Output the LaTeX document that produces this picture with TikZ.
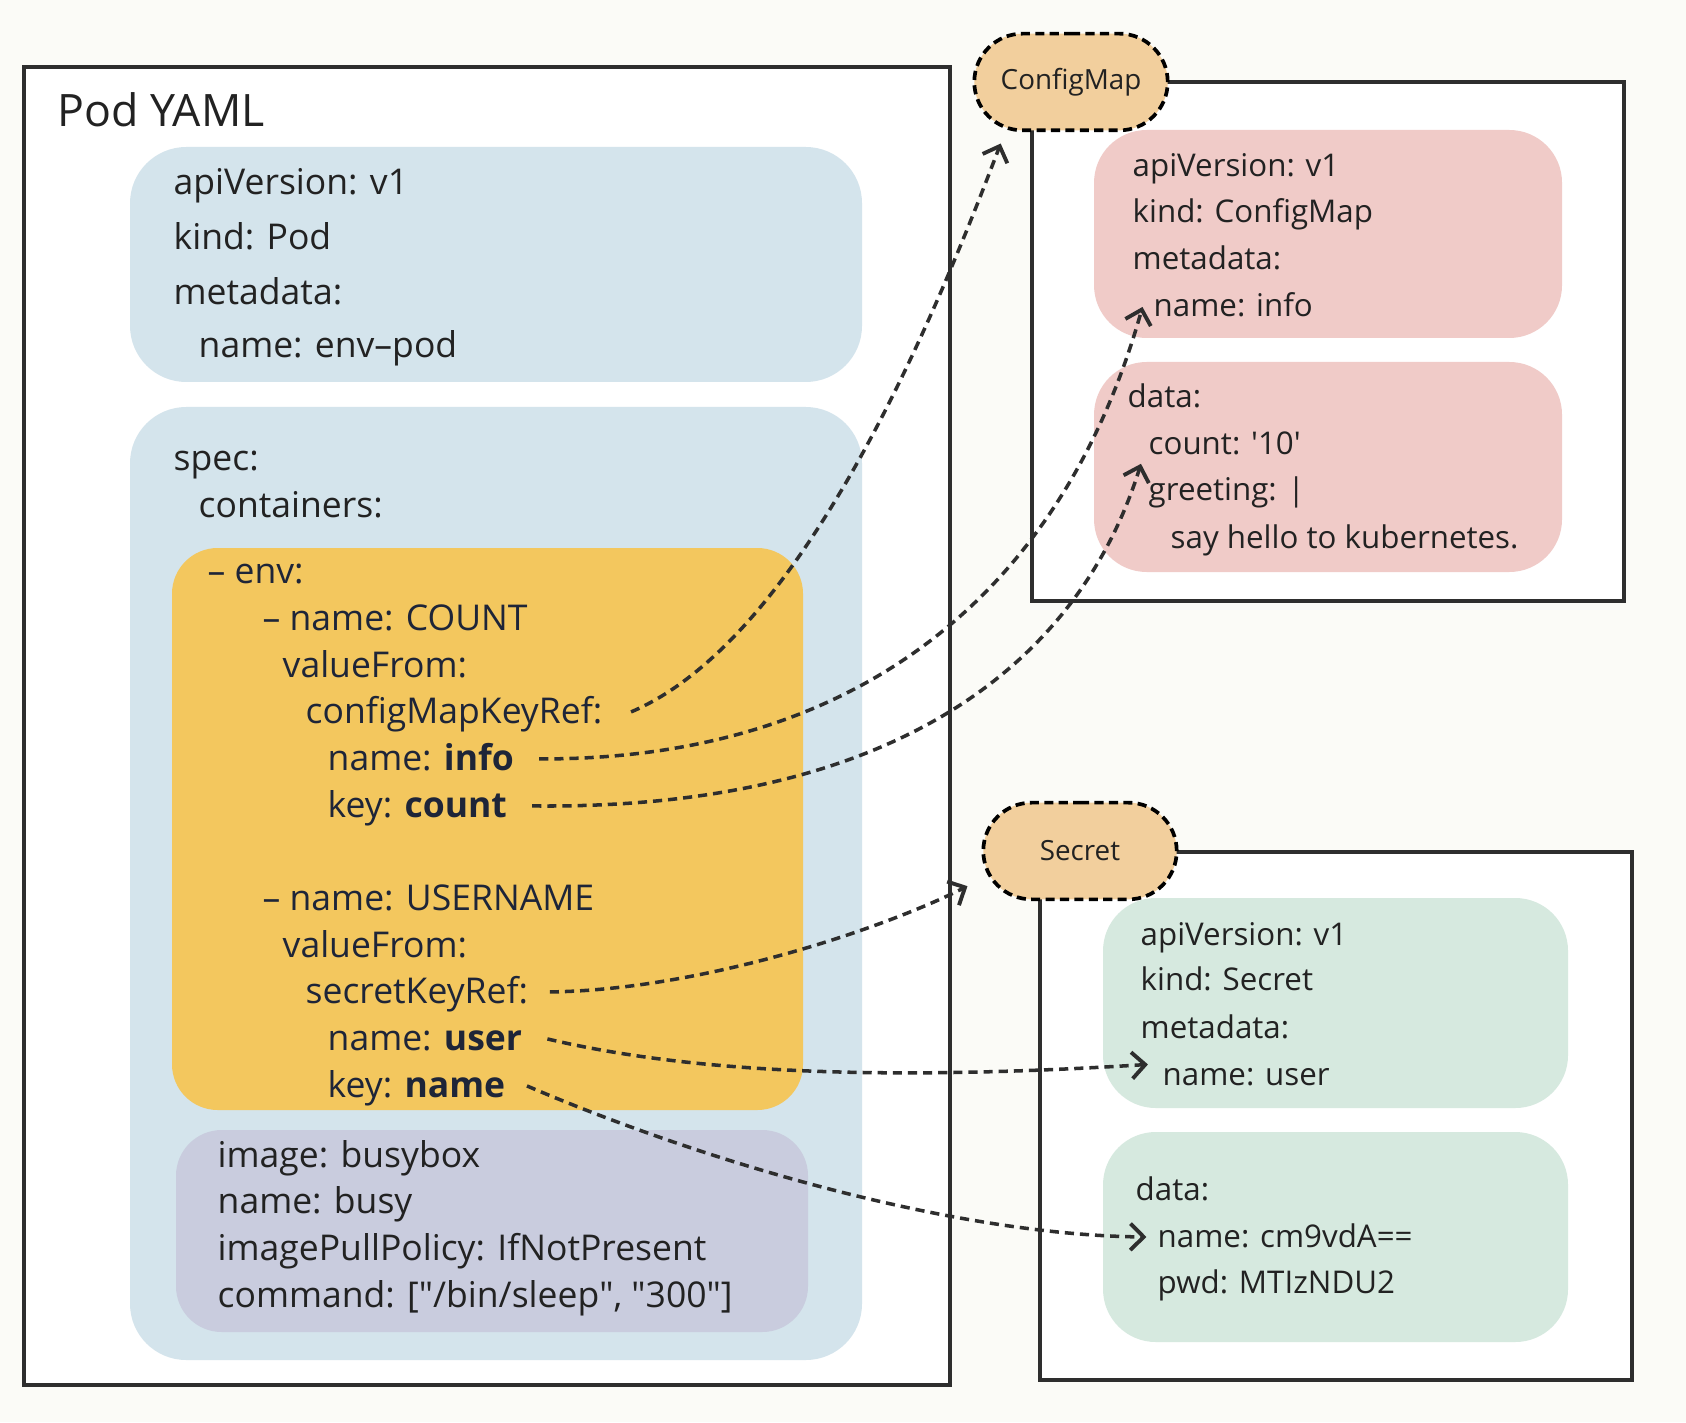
\documentclass[tikz,border=0pt]{standalone}
\usepackage{fontspec}
\setmainfont{Open Sans}
\usetikzlibrary{arrows.meta, shapes.misc}

\definecolor{paper}{HTML}{FBFBF7}
\definecolor{ink}{HTML}{222222}
\definecolor{navy}{HTML}{1E2538}
\definecolor{podblue}{HTML}{D4E4EC}
\definecolor{envgold}{HTML}{F3C75E}
\definecolor{imglilac}{HTML}{C9CCDE}
\definecolor{cmpink}{HTML}{F0CBC8}
\definecolor{secmint}{HTML}{D6E9DF}
\definecolor{tagsand}{HTML}{F2CF9D}
\definecolor{rule}{HTML}{2E2E2E}

\tikzset{
  frame/.style={draw=rule, line width=1.15pt, fill=white},
  yaml/.style={anchor=base west, inner sep=0pt, text height=8.8pt, text depth=2.5pt,
    font=\fontsize{10.1}{12}\selectfont, text=ink},
  yamlenv/.style={yaml, text=navy},
  yamlsm/.style={anchor=base west, inner sep=0pt, text height=8pt, text depth=2.3pt,
    font=\fontsize{8.9}{11}\selectfont, text=ink},
  title/.style={anchor=base west, inner sep=0pt, font=\fontsize{12.7}{15}\selectfont, text=ink},
  tag/.style={rounded rectangle, fill=tagsand, draw=black, line width=1.05pt,
    dash pattern=on 2.6pt off 1.5pt, minimum width=55pt, minimum height=27.5pt,
    inner sep=0pt, font=\fontsize{7.9}{9}\selectfont, text=ink},
  link/.style={draw=rule, line width=1pt, dash pattern=on 2.6pt off 1.7pt,
    -{Straight Barb[length=3.8pt,width=7.5pt,line width=1.1pt]}},
}

\begin{document}
\begin{tikzpicture}[x=0.01cm, y=-0.01cm]
    \useasboundingbox (0,0) rectangle (1686,1422);
    \fill[paper] (0,0) rectangle (1686,1422);

    % Pod YAML
    \draw[frame] (24,67) rectangle (950,1385);
    \node[title] (podTitle) at (57,127) {Pod YAML};

    \fill[podblue, rounded corners=16pt] (130,147) rectangle (862,382);
    \node[yaml] (podApi) at (173,195) {apiVersion: v1};
    \node[yaml] (podKind) at (173,250) {kind: Pod};
    \node[yaml] (podMeta) at (173,305) {metadata:};
    \node[yaml] (podName) at (198,358) {name: env–pod};

    \fill[podblue, rounded corners=16pt] (130,407) rectangle (862,1360);
    \node[yaml] (podSpec) at (173,470) {spec:};
    \node[yaml] (podCont) at (198,517) {containers:};

    % env block
    \fill[envgold, rounded corners=13pt] (172,548) rectangle (803,1110);
    \node[yamlenv] (envHead) at (207,583) {– env:};
    \node[yamlenv] (cntName) at (262,630) {– name: COUNT};
    \node[yamlenv] (cntFrom) at (282,677) {valueFrom:};
    \node[yamlenv] (cntRef) at (305,723) {configMapKeyRef:};
    \node[yamlenv] (cntMapName) at (327,770) {name: \textbf{info}};
    \node[yamlenv] (cntMapKey) at (327,817) {key: \textbf{count}};
    \node[yamlenv] (usrName) at (262,910) {– name: USERNAME};
    \node[yamlenv] (usrFrom) at (282,957) {valueFrom:};
    \node[yamlenv] (usrRef) at (305,1003) {secretKeyRef:};
    \node[yamlenv] (usrSecName) at (327,1050) {name: \textbf{user}};
    \node[yamlenv] (usrSecKey) at (327,1097) {key: \textbf{name}};

    % image block
    \fill[imglilac, rounded corners=13pt] (176,1130) rectangle (808,1332);
    \node[yaml] (imgImage) at (217,1167) {image: busybox};
    \node[yaml] (imgName) at (217,1213) {name: busy};
    \node[yaml] (imgPull) at (217,1260) {imagePullPolicy: IfNotPresent};
    \node[yaml] (imgCmd) at (217,1307) {command: [\textquotedbl/bin/sleep\textquotedbl, \textquotedbl300\textquotedbl]};

    % ConfigMap
    \draw[frame] (1032,82) rectangle (1624,601);
    \fill[cmpink, rounded corners=15pt] (1094,130) rectangle (1562,338);
    \node[yamlsm] (cmApi) at (1132,177) {apiVersion: v1};
    \node[yamlsm] (cmKind) at (1132,223) {kind: ConfigMap};
    \node[yamlsm] (cmMeta) at (1132,270) {metadata:};
    \node[yamlsm] (cmName) at (1153,317) {name: info};
    \fill[cmpink, rounded corners=15pt] (1094,362) rectangle (1562,572);
    \node[yamlsm] (cmData) at (1127,408) {data:};
    \node[yamlsm] (cmCount) at (1148,455) {count: \textquotesingle 10\textquotesingle};
    \node[yamlsm] (cmGreet) at (1148,500) {greeting: |};
    \node[yamlsm] (cmSay) at (1170,548) {say hello to kubernetes.};
    \node[tag] (cmTag) at (1071,82) {ConfigMap};

    % Secret
    \draw[frame] (1040,852) rectangle (1632,1380);
    \fill[secmint, rounded corners=15pt] (1103,898) rectangle (1568,1108);
    \node[yamlsm] (scApi) at (1140,945) {apiVersion: v1};
    \node[yamlsm] (scKind) at (1140,990) {kind: Secret};
    \node[yamlsm] (scMeta) at (1140,1038) {metadata:};
    \node[yamlsm] (scName) at (1162,1085) {name: user};
    \fill[secmint, rounded corners=15pt] (1103,1132) rectangle (1568,1342);
    \node[yamlsm] (scData) at (1135,1200) {data:};
    \node[yamlsm] (scUser) at (1157,1247) {name: cm9vdA==};
    \node[yamlsm] (scPwd) at (1157,1293) {pwd: MTIzNDU2};
    \node[tag] (scTag) at (1080,851) {Secret};

    % References
    \coordinate (cmIn) at ([shift={(-20pt,-17.5pt)}]cmTag.center);
    \coordinate (scIn) at ([shift={(-32pt,-10pt)}]scTag.center);
    \draw[link] ([xshift=8pt]cntRef.east) .. controls (800,640) and (930,330) .. (cmIn);
    \draw[link] ([xshift=7pt]cntMapName.east) .. controls (850,760) and (1060,600) .. ([xshift=-3pt]cmName.west);
    \draw[link] ([xshift=7pt]cntMapKey.east) .. controls (900,810) and (1080,660) .. ([xshift=-2pt]cmCount.south west);
    \draw[link] ([xshift=6pt]usrRef.east) .. controls (700,990) and (880,930) .. (scIn);
    \draw[link] ([xshift=7pt]usrSecName.east) .. controls (700,1075) and (900,1080) .. ([shift={(-4pt,3pt)}]scName.west);
    \draw[link] ([xshift=6pt]usrSecKey.east) .. controls (700,1160) and (950,1235) .. ([xshift=-3pt]scUser.west);
\end{tikzpicture}
\end{document}
